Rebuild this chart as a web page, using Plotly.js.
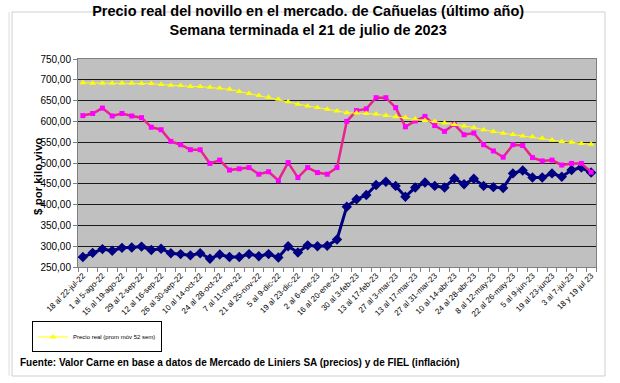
<!DOCTYPE html>
<html>
<head>
<meta charset="utf-8">
<script src="https://cdn.plot.ly/plotly-3.0.1.min.js"></script>
<style>
  html, body { margin: 0; padding: 0; background: #ffffff; }
  #chart { width: 620px; height: 383px; }
</style>
</head>
<body>
<div id="chart"></div>
<script>
// Tick labels (every other week)
const tickLabels = [
  '18 al 22-jul-22','1 al 5-ago-22','15 al 19-ago-22','29 al 2-sep-22','12 al 16-sep-22',
  '26 al 30-sep-22','10 al 14-oct-22','24 al 28-oct-22','7 al 11-nov-22','21 al 25-nov-22',
  '5 al 9-dic-22','19 al 23-dic-22','2 al 6-ene-23','16 al 20-ene-23','30 al 3-feb-23',
  '13 al 17-feb-23','27 al 3-mar-23','13 al 17-mar-23','27 al 31-mar-23','10 al 14-abr-23',
  '24 al 28-abr-23','8 al 12-may-23','22 al 26-may-23','5 al 9-jun-23','19 al 23-jun23',
  '3 al 7-jul-23','18 y 19 jul 23'
];

// Precio nominal ($/kg vivo)
const precioNominal = [
  274, 284, 293, 289, 296, 297, 299, 291, 294, 283,
  281, 278, 283, 270, 280, 274, 274, 281, 276, 281,
  273, 300, 285, 302, 300, 301, 316, 395, 413, 423,
  447, 455, 445, 419, 441, 453, 445, 441, 463, 449,
  462, 445, 442, 440, 475, 482, 465, 465, 475, 467,
  483, 489, 477
];

// Precio real ($/kg vivo, julio 2023)
const precioReal = [
  614, 619, 632, 613, 619, 613, 609, 586, 580, 552,
  544, 532, 532, 499, 507, 483, 486, 489, 473, 479,
  458, 501, 465, 489, 477, 473, 489, 600, 626, 630,
  657, 657, 633, 587, 601, 612, 590, 576, 593, 568,
  572, 544, 529, 514, 544, 542, 513, 505, 507, 495,
  499, 499, 478
];

// Precio real (promedio movil 52 semanas)
const precioRealProm = [
  693, 692, 691.5, 691.5, 691.5, 691.5, 691, 691, 689, 687,
  686, 684, 684, 682, 680, 677, 672, 667, 662, 658,
  653, 647, 641.5, 637, 633.5, 629.5, 625, 621, 620, 619,
  617.5, 614, 611, 609.5, 605.5, 602, 600, 596, 592.5, 589,
  585.5, 580, 575.5, 571.5, 568.5, 565, 563, 559.5, 555.5, 551.5,
  550, 547, 545
];

const weeks = precioReal.map((_, i) => i);
const tickVals = tickLabels.map((_, i) => i * 2);

const FONT = 'Liberation Sans, Arial, Helvetica, sans-serif';

const traces = [
  {
    x: weeks, y: precioNominal, type: 'scatter', mode: 'lines+markers',
    name: 'Precio nominal', showlegend: false,
    line: { color: '#000080', width: 3 },
    marker: { symbol: 'diamond', size: 8, color: '#000080' }
  },
  {
    x: weeks, y: precioReal, type: 'scatter', mode: 'lines+markers',
    name: 'Precio real', showlegend: false,
    line: { color: '#E8248C', width: 2.5 },
    marker: { symbol: 'square', size: 5, color: '#FF00FF' }
  },
  {
    x: weeks, y: precioRealProm, type: 'scatter', mode: 'lines+markers',
    name: 'Precio real (prom móv 52 sem)', showlegend: true,
    line: { color: '#FFFF00', width: 1 },
    marker: { symbol: 'triangle-up', size: 6, color: '#FFFF00' }
  }
];

const layout = {
  width: 620, height: 383,
  margin: { l: 78, r: 24, t: 59, b: 116, autoexpand: false },
  paper_bgcolor: '#ffffff',
  plot_bgcolor: '#C0C0C0',
  separators: ',.',
  font: { family: FONT, color: '#000000' },
  title: {
    text: '<b>Precio real del novillo en el mercado. de Cañuelas (último año)<br>Semana terminada el 21 de julio de 2023</b>',
    font: { family: FONT, size: 14.5, color: '#000000' },
    x: 0.497, xref: 'container', xanchor: 'center',
    y: 1 - 16 / 383, yref: 'container', yanchor: 'top'
  },
  xaxis: {
    range: [-0.5, weeks.length - 0.5],
    tickmode: 'array', tickvals: tickVals, ticktext: tickLabels,
    tickangle: -45, ticks: '',
    tickfont: { family: FONT, size: 8, color: '#000000' },
    minor: { tickmode: 'linear', tick0: -0.5, dtick: 1, ticks: 'outside', ticklen: 4, tickcolor: '#808080', showgrid: false },
    showgrid: false, zeroline: false,
    showline: true, linecolor: '#808080', linewidth: 1, mirror: true
  },
  yaxis: {
    range: [250, 750], dtick: 50, tick0: 250,
    tickformat: '.2f',
    tickfont: { family: FONT, size: 10, color: '#000000' },
    ticks: 'outside', ticklen: 4, tickcolor: '#808080',
    showgrid: true, gridcolor: '#1a1a1a', gridwidth: 1,
    zeroline: false,
    showline: true, linecolor: '#808080', linewidth: 1, mirror: true
  },
  legend: {
    x: -0.0888, y: -0.262, xanchor: 'left', yanchor: 'top',
    bgcolor: '#ffffff', bordercolor: '#000000', borderwidth: 1,
    font: { family: FONT, size: 6, color: '#000000' },
    itemwidth: 30
  },
  annotations: [
    {
      text: '<b>$ por kilo vivo</b>', textangle: -90,
      xref: 'paper', yref: 'paper', x: -0.0772, y: 0.433,
      xanchor: 'center', yanchor: 'middle', showarrow: false,
      font: { family: FONT, size: 11.5, color: '#000000' }
    },
    {
      text: '<b>Fuente: Valor Carne en base a datos de Mercado de Liniers SA (precios) y de FIEL (inflación)</b>',
      xref: 'paper', yref: 'paper', x: -0.1158, y: -0.457,
      xanchor: 'left', yanchor: 'middle', showarrow: false,
      font: { family: FONT, size: 10, color: '#000000' }
    }
  ],
  shapes: [
    {
      type: 'rect', xref: 'paper', yref: 'paper',
      x0: -0.1274, x1: 1.0174, y0: -0.524, y1: 1.226,
      line: { color: '#cfcfcf', width: 1 }, layer: 'below'
    },
    {
      type: 'line', xref: 'paper', yref: 'paper',
      x0: -0.133, x1: -0.133, y0: -0.524, y1: 1.226,
      line: { color: '#dddddd', width: 1 }, layer: 'below'
    }
  ]
};

Plotly.newPlot('chart', traces, layout, { displayModeBar: false, staticPlot: true });
</script>
</body>
</html>
